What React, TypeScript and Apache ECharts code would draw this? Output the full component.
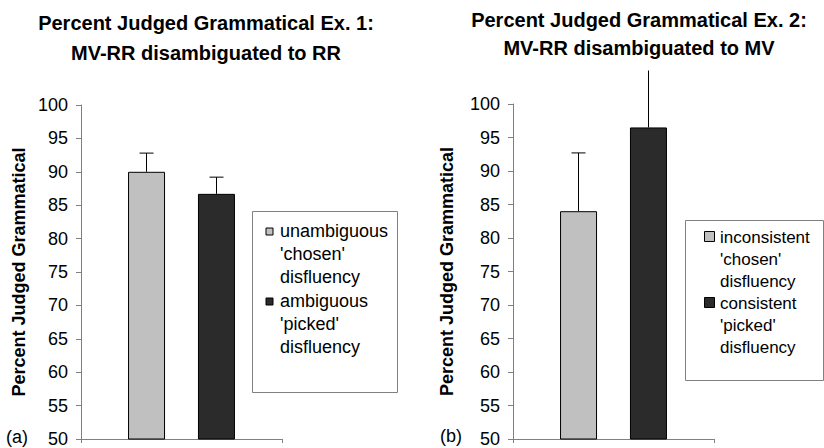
import React, { useEffect, useRef } from "react";
import * as echarts from "echarts";

const categories = [""];
const ex1Series = ["unambiguous 'chosen' disfluency", "ambiguous 'picked' disfluency"];
const ex1Values = [90, 86.7];
const ex1ErrorTop = [92.8, 89.2];
const ex2Series = ["inconsistent 'chosen' disfluency", "consistent 'picked' disfluency"];
const ex2Values = [84, 96.5];
const ex2ErrorTop = [92.7, 105];
const yMin = 50;
const yMax = 100;
const yInterval = 5;
const titles = [
  "Percent Judged Grammatical Ex. 1:\nMV-RR disambiguated to RR",
  "Percent Judged Grammatical Ex. 2:\nMV-RR disambiguated to MV",
];
const yAxisName = "Percent Judged Grammatical";
const panelLabels = ["(a)", "(b)"];
const barColors = ["#c0c0c0", "#2b2b2b"];

const FONT = "'Liberation Sans', Arial, sans-serif";
const AXIS_GRAY = "#808080";

function makeYAxis(gridIndex: number, nameGap: number) {
  return {
    type: "value",
    gridIndex,
    min: yMin,
    max: yMax,
    interval: yInterval,
    axisLine: { show: true, lineStyle: { color: AXIS_GRAY, width: 1 } },
    axisTick: { show: true, length: 5, lineStyle: { color: AXIS_GRAY } },
    axisLabel: { color: "#000", fontSize: 18, margin: 13, fontFamily: FONT },
    splitLine: { show: false },
    name: yAxisName,
    nameLocation: "middle",
    nameGap,
    nameTextStyle: { fontSize: 18, fontWeight: "bold", color: "#000", fontFamily: FONT },
  };
}

function makeXAxis(gridIndex: number) {
  return {
    type: "category",
    gridIndex,
    data: categories,
    axisLine: { show: true, lineStyle: { color: AXIS_GRAY, width: 1 } },
    axisTick: { show: true, length: 4, lineStyle: { color: AXIS_GRAY } },
    axisLabel: { show: false },
    splitLine: { show: false },
  };
}

function makeBars(names: string[], values: number[], gridIndex: number) {
  return names.map((name, i) => ({
    type: "bar",
    name,
    xAxisIndex: gridIndex,
    yAxisIndex: gridIndex,
    data: [values[i]],
    barWidth: 37,
    barGap: "89%",
    itemStyle: { color: barColors[i], borderColor: "#000", borderWidth: 1 },
  }));
}

function makeErrors(values: number[], tops: number[], gridIndex: number) {
  return {
    type: "custom",
    xAxisIndex: gridIndex,
    yAxisIndex: gridIndex,
    silent: true,
    z: 10,
    data: values.map((v, i) => [0, v, tops[i]]),
    renderItem: (params: any, api: any) => {
      const offset = params.dataIndex === 0 ? -35 : 35;
      const base = api.coord([0, api.value(1)]);
      const top = api.coord([0, api.value(2)]);
      const x = base[0] + offset;
      const style = { stroke: "#000", lineWidth: 1 };
      const children: any[] = [
        { type: "line", shape: { x1: x, y1: base[1], x2: x, y2: top[1] }, style },
      ];
      if (api.value(2) <= yMax) {
        children.push({
          type: "line",
          shape: { x1: x - 7, y1: top[1], x2: x + 7, y2: top[1] },
          style,
        });
      }
      return { type: "group", children };
    },
  };
}

function legendGraphic(
  names: string[],
  box: { x: number; y: number; w: number; h: number },
  markerX: number,
  markerYs: number[],
  markerSize: number,
  textX: number,
  textYs: number[],
  fontSize: number,
  lineHeight: number
) {
  const children: any[] = [
    {
      type: "rect",
      shape: { x: box.x + 0.5, y: box.y + 0.5, width: box.w, height: box.h },
      style: { fill: "#fff", stroke: AXIS_GRAY, lineWidth: 1 },
    },
  ];
  names.forEach((name, i) => {
    children.push({
      type: "rect",
      shape: {
        x: markerX - markerSize / 2 + 0.5,
        y: markerYs[i] - markerSize / 2 + 0.5,
        width: markerSize,
        height: markerSize,
      },
      style: { fill: barColors[i], stroke: "#000", lineWidth: 1 },
    });
    children.push({
      type: "text",
      x: textX,
      y: textYs[i],
      style: {
        text: name.split(" ").join("\n"),
        fontSize,
        fontFamily: FONT,
        fill: "#000",
        lineHeight,
        verticalAlign: "top",
      },
    });
  });
  return { type: "group", children };
}

export default function App() {
  const ref = useRef<HTMLDivElement>(null);
  useEffect(() => {
    document.body.style.margin = "0";
    if (!ref.current) return;
    const chart = echarts.init(ref.current, undefined, { renderer: "svg" });
    chart.setOption({
      animation: false,
      backgroundColor: "#fff",
      textStyle: { fontFamily: FONT },
      title: [
        {
          text: titles[0],
          left: 206,
          top: 8,
          padding: 0,
          textAlign: "center",
          textStyle: { fontSize: 20, fontWeight: "bold", color: "#000", lineHeight: 30, fontFamily: FONT },
        },
        {
          text: titles[1],
          left: 639,
          top: 6,
          padding: 0,
          textAlign: "center",
          textStyle: { fontSize: 20, fontWeight: "bold", color: "#000", lineHeight: 28, fontFamily: FONT },
        },
      ],
      grid: [
        { left: 81, top: 105, width: 201, height: 335, containLabel: false },
        { left: 513, top: 104, width: 201, height: 335, containLabel: false },
      ],
      xAxis: [makeXAxis(0), makeXAxis(1)],
      yAxis: [makeYAxis(0, 53), makeYAxis(1, 57)],
      series: [
        ...makeBars(ex1Series, ex1Values, 0),
        ...makeBars(ex2Series, ex2Values, 1),
        makeErrors(ex1Values, ex1ErrorTop, 0),
        makeErrors(ex2Values, ex2ErrorTop, 1),
      ],
      graphic: [
        {
          type: "text",
          x: 6,
          y: 437,
          style: { text: panelLabels[0], fontSize: 18, fontFamily: FONT, fill: "#000", verticalAlign: "middle" },
        },
        {
          type: "text",
          x: 440,
          y: 436,
          style: { text: panelLabels[1], fontSize: 18, fontFamily: FONT, fill: "#000", verticalAlign: "middle" },
        },
        legendGraphic(ex1Series, { x: 252, y: 211, w: 145, h: 181 }, 269, [231, 301], 7, 280, [219.5, 289.5], 18, 23),
        legendGraphic(ex2Series, { x: 685, y: 220, w: 138, h: 160 }, 709, [236, 302], 10, 720, [226, 292], 17, 22),
      ],
    });
    return () => chart.dispose();
  }, []);
  return <div ref={ref} style={{ width: 824, height: 448 }} />;
}
